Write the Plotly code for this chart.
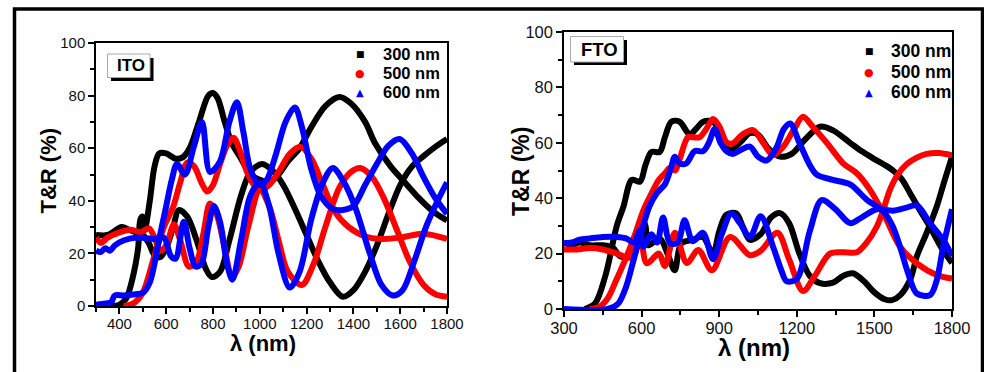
import plotly.graph_objects as go

# ---------------- ITO panel data ----------------
ito_300_T_x = [360, 400, 430, 460, 480, 490, 500, 510, 530, 550, 570, 600, 640, 670, 700, 740, 780, 800, 820, 850, 880, 920, 960, 1000, 1040, 1080, 1120, 1170, 1220, 1280, 1340, 1390, 1450, 1492, 1560, 1620, 1680, 1740, 1800]
ito_300_T_y = [0, 0.5, 3, 12, 22, 33, 34, 30, 40, 53, 58, 58, 56, 56.5, 60, 70, 80, 81, 79, 70, 62, 56, 50, 48, 47, 50, 55, 60, 68, 76, 79.5, 77, 70, 62, 53, 47, 41, 36, 32.5]
ito_300_R_x = [300, 350, 410, 440, 470, 500, 525, 552, 575, 600, 630, 654, 690, 730, 770, 795, 830, 870, 920, 960, 1010, 1060, 1100, 1150, 1200, 1250, 1300, 1355, 1400, 1450, 1500, 1550, 1600, 1650, 1700, 1750, 1800]
ito_300_R_y = [27, 27, 30, 29, 28, 27, 24, 19, 18.6, 22, 30, 36.5, 34, 25, 14, 11, 13, 25, 42, 51, 54, 51, 46, 37, 27, 17, 9, 3.5, 6, 13, 23, 35, 46, 53, 57, 60.5, 63.5]

ito_500_T_x = [420, 460, 500, 546, 590, 631, 660, 690, 720, 750, 775, 800, 830, 860, 888, 915, 945, 975, 1000, 1040, 1080, 1130, 1175, 1220, 1270, 1320, 1380, 1450, 1520, 1600, 1700, 1800]
ito_500_T_y = [0, 1, 5, 18, 30, 38, 47, 54.5, 53, 47, 43.5, 46, 54, 61, 64, 59, 51, 46, 44, 46, 51, 58, 60.5, 56, 46, 36, 30, 26.5, 25.5, 26, 27.5, 25.5]
ito_500_R_x = [300, 320, 350, 400, 450, 490, 526, 550, 575, 600, 633, 660, 697, 730, 760, 787, 815, 850, 881, 910, 950, 1000, 1040, 1080, 1120, 1180, 1230, 1280, 1340, 1390, 1430, 1480, 1530, 1590, 1640, 1700, 1750, 1800]
ito_500_R_y = [26, 24, 26, 28, 29, 28, 29.5, 26, 21, 23, 31, 25, 15, 17, 28, 39, 35, 22, 11, 15, 30, 44, 38, 25, 13, 8, 16, 30, 45, 51, 52.5, 49, 41, 28, 17, 8, 4.5, 3.5]

ito_600_T_x = [300, 340, 365, 380, 420, 470, 500, 530, 569, 600, 624, 646, 680, 718, 753, 787, 830, 870, 902, 930, 960, 1000, 1030, 1070, 1110, 1150, 1180, 1220, 1260, 1310, 1355, 1400, 1450, 1500, 1550, 1598, 1650, 1700, 1750, 1800]
ito_600_T_y = [0.5, 1, 1.5, 4, 4, 4.5, 5, 9, 25, 38, 48, 54, 50, 60.5, 70, 51, 55, 70, 77.5, 66, 52, 46, 48, 58, 70, 75.5, 68, 52, 42, 37, 36.5, 38, 46, 54, 61, 63.5, 58, 49, 41, 35]
ito_600_R_x = [300, 320, 340, 360, 380, 420, 480, 550, 590, 620, 640, 675, 700, 725, 750, 780, 804, 830, 860, 883, 920, 960, 1000, 1040, 1080, 1128, 1170, 1220, 1270, 1312, 1360, 1410, 1470, 1520, 1568, 1610, 1660, 1710, 1760, 1800]
ito_600_R_y = [21, 20.5, 22, 21, 23, 25, 26, 25.5, 26, 19, 18, 32, 22, 15, 16, 30, 38, 32, 16, 10, 25, 42, 47, 38, 20, 7, 13, 33, 47, 52.5, 47, 37, 20, 8, 4, 6, 17, 30, 40, 47]

# ---------------- FTO panel data ----------------
fto_300_T_x = [380, 420, 460, 504, 530, 562, 594, 615, 638, 670, 690, 715, 747, 786, 810, 838, 876, 905, 940, 980, 1018, 1050, 1090, 1135, 1180, 1230, 1290, 1340, 1406, 1450, 1495, 1540, 1572, 1605, 1638, 1680, 1715, 1760, 1800]
fto_300_T_y = [0, 2, 12, 30, 37, 46.6, 46, 52, 56.7, 56.7, 62, 67.6, 67.6, 63, 65, 67.6, 67.6, 63, 57.4, 60, 63.5, 63, 58, 55, 56, 61, 65.8, 64.5, 60, 57, 54.4, 52, 50, 47, 41.8, 35, 29.6, 22, 16.6]
fto_300_R_x = [300, 330, 360, 400, 450, 490, 517, 562, 585, 600, 615, 626, 670, 700, 728, 753, 798, 837, 876, 900, 927, 966, 990, 1018, 1060, 1100, 1135, 1170, 1210, 1250, 1290, 1340, 1380, 1417, 1460, 1500, 1540, 1568, 1600, 1640, 1664, 1700, 1741, 1770, 1800]
fto_300_R_y = [24, 23, 24, 23, 23, 22, 19, 19, 25, 33, 30, 23, 25.5, 20, 14, 23.7, 25, 26, 20, 28, 34, 34.5, 30, 25, 27, 33, 34.6, 31, 20, 12, 9.3, 9.5, 12, 12.9, 10, 6, 3.5, 3.2, 5, 11, 19, 27, 37, 46, 55]

fto_500_T_x = [400, 439, 470, 500, 542, 575, 607, 640, 665, 690, 710, 730, 747, 779, 800, 824, 850, 876, 900, 930, 953, 990, 1031, 1070, 1108, 1147, 1190, 1224, 1260, 1316, 1380, 1432, 1483, 1535, 1599, 1664, 1741, 1800]
fto_500_T_y = [0, 0.9, 4, 10, 19, 27, 35.6, 42, 46.4, 49, 51, 50, 54, 62, 62, 62, 65, 68.6, 66, 60, 59.8, 63, 64.6, 60, 55.6, 58.5, 65, 69.4, 66, 60, 52.5, 49, 43, 34.5, 22.5, 16.5, 12.3, 11]
fto_500_R_x = [300, 350, 400, 450, 504, 555, 594, 620, 667, 690, 729, 775, 819, 872, 942, 1019, 1060, 1125, 1170, 1224, 1270, 1328, 1380, 1432, 1470, 1509, 1535, 1560, 1590, 1625, 1660, 1702, 1750, 1800]
fto_500_R_y = [21.5, 21.5, 22, 21.5, 20, 18.6, 25, 16.5, 20, 15.5, 27.5, 16.6, 21.3, 14, 26, 19.4, 21, 27.5, 18, 6.5, 12, 20, 20.5, 20.5, 24, 29.7, 36, 43, 48.5, 52.3, 54.5, 56, 56.3, 55.5]

fto_600_T_x = [300, 470, 510, 540, 570, 600, 630, 660, 690, 715, 728, 747, 773, 805, 838, 860, 883, 905, 928, 953, 985, 1019, 1050, 1083, 1120, 1150, 1174, 1210, 1250, 1277, 1340, 1406, 1470, 1535, 1570, 1599, 1630, 1664, 1715, 1740, 1766, 1800]
fto_600_T_y = [0, 0, 2, 8, 18, 28, 37, 42, 45, 51.3, 55, 52.6, 52.6, 57, 57, 60, 65, 60, 57, 56, 57.5, 58.6, 55, 53.6, 58, 65, 67, 60, 52, 48.5, 46.6, 45, 39.5, 35.2, 30, 22.5, 13, 5.6, 5, 10, 22.5, 36]
fto_600_R_x = [300, 330, 360, 400, 450, 504, 540, 570, 594, 607, 638, 660, 683, 710, 740, 766, 798, 837, 876, 910, 947, 980, 1019, 1060, 1110, 1140, 1161, 1201, 1250, 1296, 1350, 1406, 1450, 1509, 1572, 1620, 1664, 1715, 1766, 1800]
fto_600_R_y = [23.7, 24, 25, 25.5, 26, 26, 25.5, 24, 28.5, 22.5, 27, 24, 33, 23.7, 24, 32, 24.5, 27.5, 18, 27, 34.5, 31, 26, 33.5, 22, 14, 10, 11, 28, 39.3, 36, 31, 33, 36, 35.5, 36.5, 37.4, 31, 25, 19]

series_names = ["300 nm", "500 nm", "600 nm"]
series_colors = ["#000000", "#ff0000", "#0000ff"]
series_glyphs = ["■", "●", "▲"]
panel_labels = ["ITO", "FTO"]
x_title = "λ (nm)"
y_title = "T&R (%)"

ito_curves = [
    [(ito_300_T_x, ito_300_T_y), (ito_300_R_x, ito_300_R_y)],
    [(ito_500_T_x, ito_500_T_y), (ito_500_R_x, ito_500_R_y)],
    [(ito_600_T_x, ito_600_T_y), (ito_600_R_x, ito_600_R_y)],
]
fto_curves = [
    [(fto_300_T_x, fto_300_T_y), (fto_300_R_x, fto_300_R_y)],
    [(fto_500_T_x, fto_500_T_y), (fto_500_R_x, fto_500_R_y)],
    [(fto_600_T_x, fto_600_T_y), (fto_600_R_x, fto_600_R_y)],
]

W, H = 984, 372
def px(x):
    return x / W
def py(y):
    return 1 - y / H

FONT = "Liberation Sans, Arial, sans-serif"
fig = go.Figure()

for curves, xa, ya in [(ito_curves, "x", "y"), (fto_curves, "x2", "y2")]:
    for i, pair in enumerate(curves):
        for k, (xs, ys) in enumerate(pair):
            fig.add_trace(go.Scatter(
                x=xs, y=ys, mode="lines", xaxis=xa, yaxis=ya,
                name=series_names[i], legendgroup=series_names[i],
                line=dict(color=series_colors[i], width=6, shape="spline", smoothing=0.9),
                showlegend=False, hoverinfo="skip"))

axis_common = dict(showline=True, linecolor="black", linewidth=1.5, mirror=True,
                   ticks="outside", ticklen=6, tickwidth=1.5, tickcolor="black",
                   showgrid=False, zeroline=False, automargin=False)
minor_common = dict(ticks="outside", ticklen=4, tickwidth=1.5, tickcolor="black")

fig.update_layout(
    width=W, height=H,
    margin=dict(l=0, r=0, t=0, b=0, autoexpand=False),
    paper_bgcolor="white", plot_bgcolor="white",
    font=dict(family=FONT, color="#111111"),
    showlegend=False,
    xaxis=dict(domain=[px(96), px(447)], range=[300, 1800], anchor="y",
               tickvals=[400, 600, 800, 1000, 1200, 1400, 1600, 1800],
               tickfont=dict(size=15, family=FONT), ticklabelstandoff=-3,
               minor=dict(tick0=300, dtick=100, **minor_common),
               **axis_common),
    yaxis=dict(domain=[py(306), py(43)], range=[0, 100], anchor="x",
               tickvals=[0, 20, 40, 60, 80, 100],
               tickfont=dict(size=15, family=FONT),
               minor=dict(tick0=0, dtick=10, **minor_common),
               **axis_common),
    xaxis2=dict(domain=[px(564), px(952)], range=[300, 1800], anchor="y2",
                tickvals=[300, 600, 900, 1200, 1500, 1800],
                tickfont=dict(size=16.5, family=FONT), ticklabelstandoff=-3,
                minor=dict(tick0=300, dtick=150, **minor_common),
                **axis_common),
    yaxis2=dict(domain=[py(309), py(32)], range=[0, 100], anchor="x2",
                tickvals=[0, 20, 40, 60, 80, 100],
                tickfont=dict(size=16.5, family=FONT),
                minor=dict(tick0=0, dtick=10, **minor_common),
                **axis_common),
)

shapes = [
    # outer frame
    dict(type="rect", xref="paper", yref="paper", x0=px(14.5), x1=px(982.5), y0=py(9), y1=py(400),
         line=dict(color="black", width=3.5), fillcolor="rgba(0,0,0,0)", layer="above"),
    # ITO label box shadow + box
    dict(type="rect", xref="paper", yref="paper", x0=px(111), x1=px(153.5), y0=py(81), y1=py(58),
         line=dict(width=0), fillcolor="black", layer="above"),
    dict(type="rect", xref="paper", yref="paper", x0=px(107.5), x1=px(150), y0=py(77.5), y1=py(54),
         line=dict(color="#aaaaaa", width=1), fillcolor="white", layer="above"),
    # FTO label box shadow + box
    dict(type="rect", xref="paper", yref="paper", x0=px(574), x1=px(627), y0=py(65), y1=py(40),
         line=dict(width=0), fillcolor="black", layer="above"),
    dict(type="rect", xref="paper", yref="paper", x0=px(570.5), x1=px(623.5), y0=py(62), y1=py(36.5),
         line=dict(color="#aaaaaa", width=1), fillcolor="white", layer="above"),
]
fig.update_layout(shapes=shapes)

# axis titles
for (cx, cy, fs) in [(263, 343, 22), (754, 347, 24)]:
    fig.add_annotation(text=x_title, xref="paper", yref="paper", x=px(cx), y=py(cy),
                       xanchor="center", yanchor="middle", showarrow=False,
                       font=dict(size=fs, family=FONT, weight="bold", color="black"))
for (cx, cy, fs) in [(48, 170.5, 22), (521, 172, 23)]:
    fig.add_annotation(text=y_title, xref="paper", yref="paper", x=px(cx), y=py(cy),
                       xanchor="center", yanchor="middle", textangle=-90, showarrow=False,
                       font=dict(size=fs, family=FONT, weight="bold", color="black"))

# panel labels
fig.add_annotation(text=panel_labels[0], xref="paper", yref="paper", x=px(131), y=py(65.5),
                   xanchor="center", yanchor="middle",
                   showarrow=False, font=dict(size=17, family=FONT, weight="bold", color="black"))
fig.add_annotation(text=panel_labels[1], xref="paper", yref="paper", x=px(599), y=py(49),
                   xanchor="center", yanchor="middle",
                   showarrow=False, font=dict(size=18.5, family=FONT, weight="bold", color="black"))

# legends (symbol + label) for each panel
glyph_sizes = [9, 11, 10]
for (mx, tx, rows, fsize) in [(360, 381, [54, 73, 92], 16.5), (869, 889, [51, 72, 92], 17.5)]:
    for i in range(3):
        fig.add_annotation(text=series_glyphs[i], xref="paper", yref="paper",
                           x=px(mx), y=py(rows[i]), xanchor="center", yanchor="middle",
                           showarrow=False,
                           font=dict(size=glyph_sizes[i], family="DejaVu Sans", color=series_colors[i]))
        fig.add_annotation(text=series_names[i], xref="paper", yref="paper",
                           x=px(tx), y=py(rows[i]), xanchor="left", yanchor="middle",
                           showarrow=False,
                           font=dict(size=fsize, family=FONT, weight="bold", color="black"))

fig.write_html("out.html", config={"displayModeBar": False},
               post_script="document.body.style.margin='0px';document.body.style.overflow='hidden';")
